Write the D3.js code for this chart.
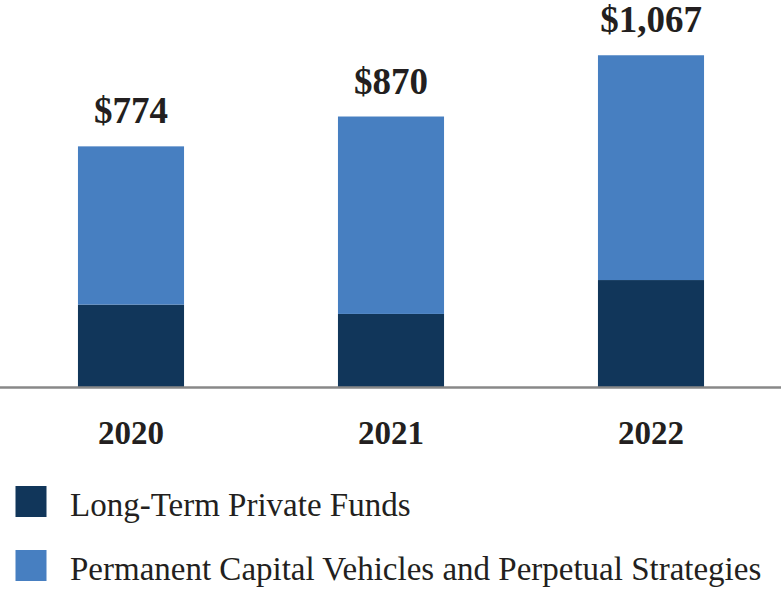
<!DOCTYPE html>
<html>
<head>
<meta charset="utf-8">
<script src="https://cdn.jsdelivr.net/npm/d3@7"></script>
<style>
  html, body { margin: 0; padding: 0; background: #fff; }
  svg { display: block; }
</style>
</head>
<body>
<div id="chart"></div>
<script>
// chart data
const years = ['2020', '2021', '2022'];
const longTermFunds = [265, 235, 344];
const permanentCapital = [509, 635, 723];
const totals = ['$774', '$870', '$1,067'];
const seriesNames = ['Long-Term Private Funds', 'Permanent Capital Vehicles and Perpetual Strategies'];
const seriesColors = ['#11365a', '#477fc1'];

const width = 781;
const height = 596;
const baseline = 387;

const svg = d3.select('#chart')
    .append('svg')
    .attr('width', width)
    .attr('height', height);

const x = d3.scaleBand()
    .domain(years)
    .range([1, 781])
    .paddingInner(0.592)
    .paddingOuter(0.296);

const y = d3.scaleLinear()
    .domain([0, 1100])
    .range([baseline, 45]);

const rows = years.map((yr, i) => ({
    year: yr,
    longTerm: longTermFunds[i],
    permanent: permanentCapital[i]
}));

const stack = d3.stack().keys(['longTerm', 'permanent']);
const layers = stack(rows);

svg.selectAll('g.layer')
    .data(layers)
    .enter()
    .append('g')
    .attr('class', 'layer')
    .attr('fill', (d, i) => seriesColors[i])
    .selectAll('rect')
    .data(d => d)
    .enter()
    .append('rect')
    .attr('x', d => x(d.data.year))
    .attr('width', x.bandwidth())
    .attr('y', d => y(d[1]))
    .attr('height', d => y(d[0]) - y(d[1]));

// baseline
svg.append('line')
    .attr('x1', 0)
    .attr('x2', width)
    .attr('y1', baseline + 0.5)
    .attr('y2', baseline + 0.5)
    .attr('stroke', '#888888')
    .attr('stroke-width', 2.6);

// total labels
svg.selectAll('text.total')
    .data(rows)
    .enter()
    .append('text')
    .attr('class', 'total')
    .attr('x', d => x(d.year) + x.bandwidth() / 2)
    .attr('y', d => y(d.longTerm + d.permanent) - 23)
    .attr('text-anchor', 'middle')
    .style('font-family', '"Liberation Serif", "Times New Roman", serif')
    .style('font-weight', 'bold')
    .style('font-size', '37px')
    .style('fill', '#231f20')
    .text((d, i) => totals[i]);

// year labels
const xAxis = d3.axisBottom(x).tickSize(0).tickPadding(0);
const axisG = svg.append('g')
    .attr('transform', `translate(0, ${baseline})`)
    .call(xAxis);
axisG.select('.domain').remove();
axisG.selectAll('text')
    .attr('dy', null)
    .attr('y', 57)
    .style('font-family', '"Liberation Serif", "Times New Roman", serif')
    .style('font-weight', 'bold')
    .style('font-size', '33px')
    .style('fill', '#231f20');

// legend
const legend = svg.selectAll('g.legend')
    .data(seriesNames)
    .enter()
    .append('g')
    .attr('class', 'legend')
    .attr('transform', (d, i) => `translate(15.5, ${486 + i * 64})`);

legend.append('rect')
    .attr('width', 31)
    .attr('height', 31)
    .attr('fill', (d, i) => seriesColors[i]);

legend.append('text')
    .attr('x', 54.5)
    .attr('y', 30)
    .style('font-family', '"Liberation Serif", "Times New Roman", serif')
    .style('font-size', '33px')
    .style('fill', '#231f20')
    .text(d => d);
</script>
</body>
</html>
